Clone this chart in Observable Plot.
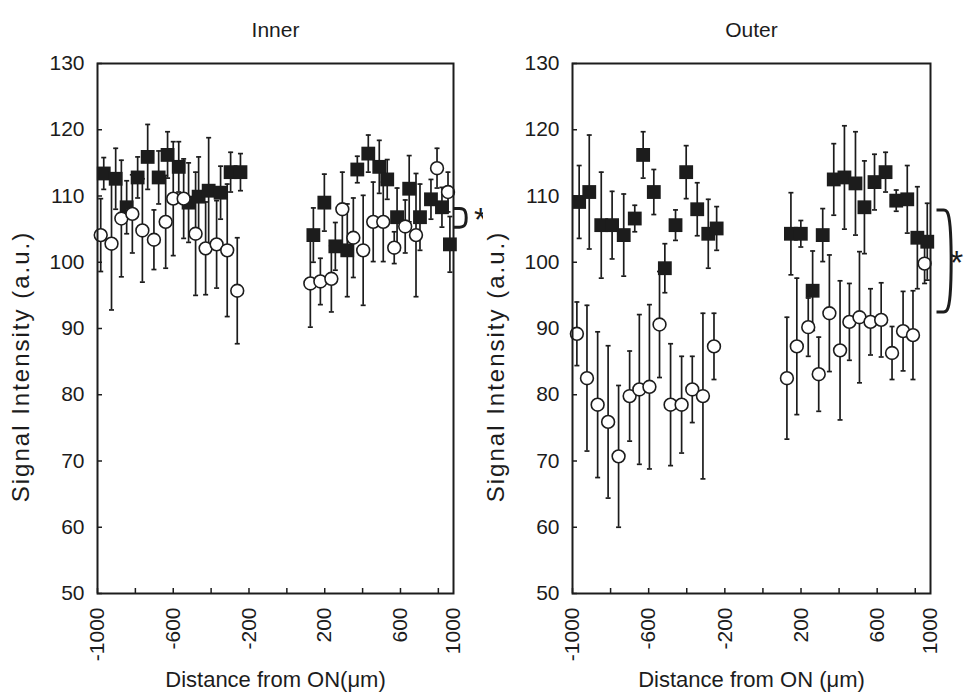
<!DOCTYPE html>
<html><head><meta charset="utf-8">
<script src="https://cdn.jsdelivr.net/npm/d3@7"></script>
<script src="https://cdn.jsdelivr.net/npm/@observablehq/plot@0.6"></script>
<style>
body{margin:0;background:#fff;}
#wrap{display:flex;width:966px;height:699px;overflow:hidden;}
</style></head><body><div id="wrap"></div>
<script>
// ---- data ----
const panelTitles = ["Inner", "Outer"];
const yLabel = "Signal Intensity (a.u.)";
const xLabels = ["Distance from ON(\u03bcm)", "Distance from ON (\u03bcm)"];
const yTicks = [50, 60, 70, 80, 90, 100, 110, 120, 130];
const xTickMarks = [-1000, -800, -600, -400, -200, 0, 200, 400, 600, 800];
const xDomain = [-1000, 880];
const xLabelPos = [-1000, -600, -200, 200, 600, 880];
const xLabelText = ["-1000", "-600", "-200", "200", "600", "1000"];

const innerSqX = [-967,-904,-846,-788,-735,-677,-630,-571,-519,-466,-413,-350,-297,-245, 140,198,256,319,372,430,488,530,582,646,703,761,819,861];
const innerSqY = [113.4,112.6,108.3,112.8,115.9,112.8,116.2,114.4,109.0,109.9,110.8,110.5,113.6,113.6, 104.1,109.0,102.4,101.8,114.0,116.4,114.4,112.5,106.8,111.1,106.8,109.5,108.3,102.7];
const innerSqE = [2.4,4.6,4.0,3.1,4.9,4.0,3.5,3.8,6.0,6.0,8.0,4.0,3.0,2.8, 4.1,4.3,3.6,7.0,2.0,2.8,4.0,3.0,4.4,5.0,5.0,3.0,3.0,4.2];

const innerCiX = [-983,-926,-874,-816,-763,-702,-640,-600,-545,-482,-429,-371,-315,-262, 124,177,235,293,351,403,456,509,567,625,682,793,851];
const innerCiY = [104.1,102.8,106.6,107.3,104.8,103.4,106.1,109.6,109.6,104.3,102.1,102.7,101.8,95.7, 96.8,97.1,97.5,108.0,103.7,101.8,106.1,106.1,102.2,105.4,104.1,114.2,110.6];
const innerCiE = [5.5,10,8.8,5.9,7.8,4.5,7,8.6,6,9.3,7,6.6,10,8, 6.6,3.5,5,5.6,6,8.3,6,6,2.4,4,9.3,3,3];

const outerSqX = [-965,-912,-849,-792,-731,-673,-629,-573,-515,-459,-403,-345,-287,-243, 147,199,261,314,372,428,486,533,586,644,700,758,811,863];
const outerSqY = [109.1,110.6,105.6,105.6,104.1,106.6,116.2,110.6,99.1,105.6,113.6,108.0,104.3,105.1, 104.3,104.3,95.7,104.1,112.5,112.8,111.9,108.3,112.1,113.6,109.3,109.5,103.7,103.1];
const outerSqE = [5.5,8.6,8,5.1,6.2,2,3.5,3.4,3.7,2.3,4,4,5.2,3.3, 6.2,2,6,4,5.4,7.8,7.8,7,4.2,3,1.6,5.1,7.7,5.8];

const outerCiX = [-977,-924,-868,-813,-758,-700,-649,-596,-543,-485,-427,-371,-315,-257, 126,178,238,293,349,405,454,507,565,621,678,736,788,849];
const outerCiY = [89.2,82.5,78.5,75.9,70.7,79.8,80.8,81.2,90.6,78.5,78.5,80.8,79.8,87.3, 82.5,87.3,90.2,83.1,92.3,86.7,91.0,91.7,91.0,91.3,86.3,89.6,89.0,99.8];
const outerCiE = [4.8,11,11,11.5,10.7,6.8,11.3,12.4,8,9.2,7.3,5,12.5,5, 9.2,10.3,4.4,5.6,8.8,10.5,5.8,9.9,5,5.6,4,6,6.7,3];

const innerBracket = [108.1, 105.3];
const outerBracket = [107.9, 92.5];

// ---- drawing ----
const INK = "#1c1c1c";
const FONT = "'Liberation Sans', Arial, Helvetica, sans-serif";
const capSymbol = {draw(ctx) { ctx.moveTo(-2.5, 0); ctx.lineTo(2.5, 0); }};

function panel(o) {
  const W = 483, H = 699, mt = 63, mb = 106;
  const sq = o.sqX.map((x, i) => ({x, y: o.sqY[i], e: o.sqE[i]}));
  const ci = o.ciX.map((x, i) => ({x, y: o.ciY[i], e: o.ciE[i]}));
  const pxPerUnit = (W - o.ml - o.mr) / (xDomain[1] - xDomain[0]);
  const x0 = xDomain[1] + o.bOff / pxPerUnit;
  const w = o.bW / pxPerUnit;
  const [yT, yB] = o.bracket;
  const bpts = [[x0, yT], [x0 + w * 0.45, yT], [x0 + w, yT], [x0 + w, yB], [x0 + w * 0.45, yB], [x0, yB]];
  const caps = d => [{x: d.x, y: d.y - d.e}, {x: d.x, y: d.y + d.e}];
  const svg = Plot.plot({
    width: W, height: H,
    marginLeft: o.ml, marginRight: o.mr, marginTop: mt, marginBottom: mb,
    style: {fontFamily: FONT, fontSize: "21px", color: INK, background: "#fff", overflow: "visible"},
    x: {domain: xDomain},
    y: {domain: [50, 130]},
    marks: [
      // inward tick marks
      Plot.axisX({ticks: xTickMarks, tickSize: 5, dy: -5, fill: "none", label: null, stroke: INK, strokeWidth: 1.5}),
      Plot.axisY({ticks: yTicks, tickSize: 5, dx: 5, fill: "none", label: null, stroke: INK, strokeWidth: 1.5}),
      // tick labels
      Plot.axisX({ticks: xLabelPos, tickSize: 0, tickRotate: -90, tickPadding: 14, label: null, fill: INK,
        tickFormat: d => xLabelText[xLabelPos.indexOf(d)]}),
      Plot.axisY({ticks: yTicks, tickSize: 0, tickPadding: 13, label: null, fill: INK, tickFormat: d => String(d)}),
      // error bars
      Plot.ruleX(sq, {x: "x", y1: d => d.y - d.e, y2: d => d.y + d.e, stroke: INK, strokeWidth: 1.7}),
      Plot.dot(sq.flatMap(caps), {x: "x", y: "y", symbol: capSymbol, stroke: INK, strokeWidth: 1.7, r: 3}),
      Plot.ruleX(ci, {x: "x", y1: d => d.y - d.e, y2: d => d.y + d.e, stroke: INK, strokeWidth: 1.7}),
      Plot.dot(ci.flatMap(caps), {x: "x", y: "y", symbol: capSymbol, stroke: INK, strokeWidth: 1.7, r: 3}),
      // markers
      Plot.dot(sq, {x: "x", y: "y", symbol: "square", r: 7.8, fill: INK, stroke: "none"}),
      Plot.dot(ci, {x: "x", y: "y", r: 6.4, fill: "#fff", stroke: INK, strokeWidth: 1.6}),
      // frame
      Plot.frame({stroke: INK, strokeWidth: 2}),
      // significance bracket + asterisk
      Plot.line(bpts, {x: d => d[0], y: d => d[1], curve: "basis", stroke: INK, strokeWidth: 3, strokeLinecap: "butt"}),
      Plot.text(["*"], {x: xDomain[1] + o.aOff / pxPerUnit, y: (yT + yB) / 2, text: d => d, fontSize: 34, dy: o.aDy, fill: INK}),
      // titles / labels
      Plot.text([o.title], {frameAnchor: "top", dy: -41, text: d => d, fill: INK, fontSize: 21}),
      Plot.text([yLabel], {frameAnchor: "left", textAnchor: "middle", dx: -76, dy: 38, rotate: -90, text: d => d, fill: INK, fontSize: 24}),
      Plot.text([o.xLabel], {frameAnchor: "bottom", dy: 93, text: d => d, fill: INK, fontSize: 22})
    ]
  });
  d3.select(svg).selectAll("text").filter(function() { return this.textContent === yLabel; })
    .attr("letter-spacing", "2px");
  return svg;
}

const wrap = document.getElementById("wrap");
wrap.appendChild(panel({title: panelTitles[0], xLabel: xLabels[0], sqX: innerSqX, sqY: innerSqY, sqE: innerSqE,
  ciX: innerCiX, ciY: innerCiY, ciE: innerCiE, bracket: innerBracket, ml: 97, mr: 30, bOff: 0, bW: 13, aOff: 27, aDy: 2}));
wrap.appendChild(panel({title: panelTitles[1], xLabel: xLabels[1], sqX: outerSqX, sqY: outerSqY, sqE: outerSqE,
  ciX: outerCiX, ciY: outerCiY, ciE: outerCiE, bracket: outerBracket, ml: 89, mr: 36, bOff: 6, bW: 15, aOff: 26, aDy: 2}));
</script></body></html>
